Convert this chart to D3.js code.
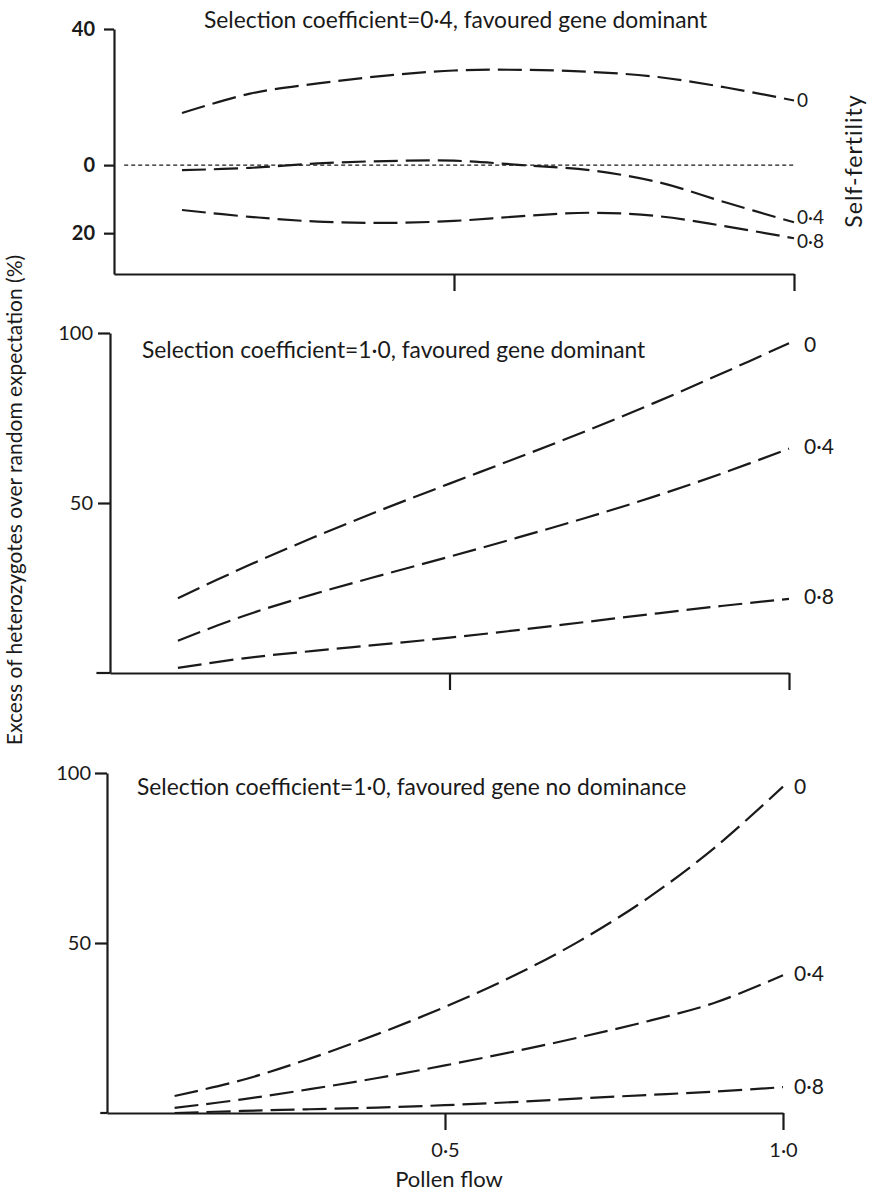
<!DOCTYPE html>
<html>
<head>
<meta charset="utf-8">
<script src="https://cdn.jsdelivr.net/npm/d3@7"></script>
<style>
  body { margin: 0; background: #fff; }
  text { font-family: Lato, "Open Sans", sans-serif; fill: #1a1a1a; }
</style>
</head>
<body>
<script>
const pollen = [0.1, 0.2, 0.3, 0.4, 0.5, 0.6, 0.7, 0.8, 0.9, 1.0];
const selfFertility = ['0', '0·4', '0·8'];

const titles = [
  'Selection coefficient=0·4, favoured gene dominant',
  'Selection coefficient=1·0, favoured gene dominant',
  'Selection coefficient=1·0, favoured gene no dominance'
];

// top panel: s = 0.4, dominant (negative = deficit)
const topS0  = [15.3, 21, 24, 26.3, 27.8, 28, 27.4, 25.9, 22.8, 19];
const topS04 = [-1.5, -0.8, 0.5, 1.2, 1.3, 0, -1.5, -5, -11, -16.8];
const topS08 = [-13.2, -15.2, -16.6, -17, -16.4, -15, -14, -15, -18, -21.5];
const topZero = [0.015, 1.0];

// middle panel: s = 1.0, dominant
const midS0  = [22, 31.3, 39.9, 48, 55.7, 63.3, 71.1, 79.3, 88, 97];
const midS04 = [9.5, 17, 23.2, 28.8, 34.2, 39.8, 45.6, 51.8, 58.6, 66];
const midS08 = [1.5, 4.4, 6.5, 8.4, 10.4, 12.6, 15, 17.4, 19.7, 21.8];

// bottom panel: s = 1.0, no dominance
const botS0  = [5, 9.7, 16, 23.2, 31.2, 40.2, 50.7, 63.2, 78.2, 96];
const botS04 = [1.5, 4, 7, 10.3, 14, 18, 22.3, 27, 32.5, 40.5];
const botS08 = [0, 0.6, 1.1, 1.6, 2.3, 3.2, 4.3, 5.3, 6.3, 7.6];

const topYTicks = [40, 0, -20];
const yTicks = [100, 50];
const xTicks = [0.5, 1.0];

const dot = d => d.toFixed(1).replace('.', '·');

const W = 869, H = 1194;
const svg = d3.select('body').append('svg')
  .attr('width', W)
  .attr('height', H);

svg.append('rect').attr('width', W).attr('height', H).attr('fill', '#fff');

const panels = [
  { title: titles[0], tx: 204, ty: 28, series: [topS0, topS04, topS08],
    xr: [114, 794], yd: [-32, 40], yr: [274, 29], ticks: topYTicks,
    tickSize: 10, pad: 9, bold: true, xLabels: false, ext: 0,
    labDx: 3, labSize: 19, nudge: [0, -5, 3] },
  { title: titles[1], tx: 142, ty: 358, series: [midS0, midS04, midS08],
    xr: [110, 789], yd: [0, 100], yr: [673, 333], ticks: yTicks,
    tickSize: 12, pad: 5, bold: false, xLabels: false, ext: 0.02,
    labDx: 15, labSize: 21, nudge: [1, -2, -2] },
  { title: titles[2], tx: 137, ty: 795, series: [botS0, botS04, botS08],
    xr: [107, 783], yd: [0, 100], yr: [1113, 773], ticks: yTicks,
    tickSize: 12, pad: 4, bold: false, xLabels: true, ext: 0.01,
    labDx: 11, labSize: 21, nudge: [0, -2, -1] }
];

panels.forEach((p, i) => {
  const x = d3.scaleLinear().domain([0, 1]).range(p.xr);
  const y = d3.scaleLinear().domain(p.yd).range(p.yr);
  const g = svg.append('g');

  // y axis
  const yAxis = g.append('g')
    .attr('transform', `translate(${x(0)},0)`)
    .call(d3.axisLeft(y).tickValues(p.ticks).tickSize(p.tickSize)
      .tickSizeOuter(0).tickPadding(p.pad).tickFormat(d => Math.abs(d)));
  yAxis.selectAll('text')
    .attr('font-size', 20)
    .attr('font-weight', p.bold ? 700 : 400)
    .attr('fill', '#1a1a1a');

  // x axis
  const xAxis = g.append('g')
    .attr('transform', `translate(0,${y(p.yd[0])})`)
    .call(d3.axisBottom(x).tickValues(xTicks).tickSize(17)
      .tickSizeOuter(0).tickPadding(13).tickFormat(p.xLabels ? dot : ''));
  xAxis.selectAll('text')
    .attr('font-size', 20)
    .attr('fill', '#1a1a1a');

  if (p.ext > 0) {
    g.append('line')
      .attr('x1', x(-p.ext)).attr('x2', x(0))
      .attr('y1', y(p.yd[0])).attr('y2', y(p.yd[0]))
      .attr('stroke', '#1a1a1a').attr('stroke-width', 2.2);
  }

  g.selectAll('.domain, .tick line')
    .attr('stroke', '#1a1a1a')
    .attr('stroke-width', 2.2);

  // title
  g.append('text')
    .attr('x', p.tx).attr('y', p.ty)
    .attr('font-size', 22.8)
    .text(p.title);

  const line = d3.line()
    .x(d => x(d[0]))
    .y(d => y(d[1]))
    .curve(d3.curveCatmullRom.alpha(0.5));

  if (i === 0) {
    g.append('path')
      .datum(topZero.map(v => [v, 0]))
      .attr('d', line)
      .attr('fill', 'none')
      .attr('stroke', '#1a1a1a')
      .attr('stroke-width', 1.4)
      .attr('stroke-dasharray', '4,3');
  }

  p.series.forEach((s, k) => {
    g.append('path')
      .datum(pollen.map((v, j) => [v, s[j]]))
      .attr('d', line)
      .attr('fill', 'none')
      .attr('stroke', '#1a1a1a')
      .attr('stroke-width', 2.2)
      .attr('stroke-dasharray', '24,8');

    g.append('text')
      .attr('x', x(1) + p.labDx)
      .attr('y', y(s[s.length - 1]) + p.nudge[k])
      .attr('dy', '0.35em')
      .attr('font-size', p.labSize)
      .text(selfFertility[k]);
  });

  if (p.xLabels) {
    g.append('text')
      .attr('x', x(0.5) + 4).attr('y', 1187)
      .attr('text-anchor', 'middle')
      .attr('font-size', 22)
      .text('Pollen flow');
  }
});

// side titles
svg.append('text')
  .attr('transform', 'translate(854,161) rotate(-90)')
  .attr('text-anchor', 'middle')
  .attr('dy', '0.35em')
  .attr('font-size', 23)
  .attr('letter-spacing', 1)
  .text('Self-fertility');

svg.append('text')
  .attr('transform', 'translate(15,500) rotate(-90)')
  .attr('text-anchor', 'middle')
  .attr('dy', '0.35em')
  .attr('font-size', 21)
  .text('Excess of heterozygotes over random expectation (%)');
</script>
</body>
</html>
